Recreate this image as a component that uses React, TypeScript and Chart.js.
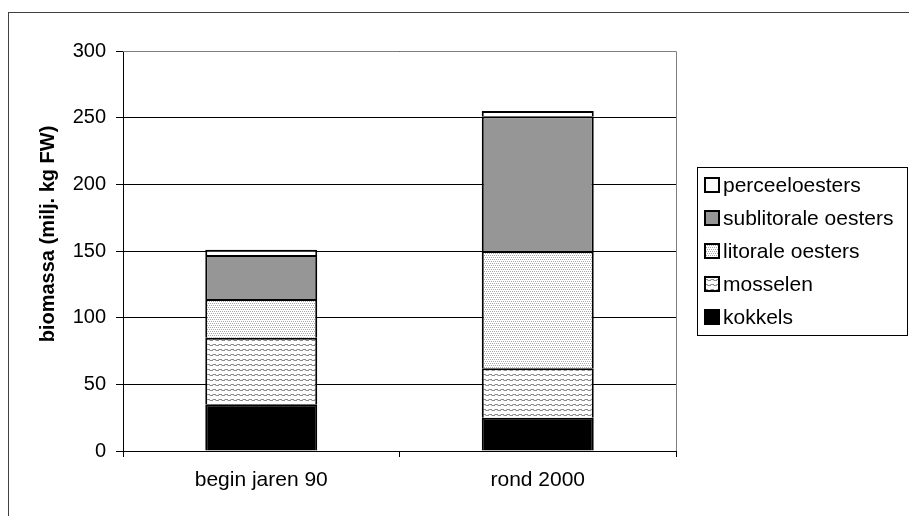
import React, { useEffect, useRef } from 'react';
import { Chart, registerables } from 'chart.js';

Chart.register(...registerables);

const categories = ['begin jaren 90', 'rond 2000'];
const seriesLabels = ['kokkels', 'mosselen', 'litorale oesters', 'sublitorale oesters', 'perceeloesters'];
const kokkels = [35, 25];
const mosselen = [50, 37];
const litoraleOesters = [29, 88];
const sublitoraleOesters = [33, 101];
const perceeloesters = [4, 4];
const yTicks = [0, 50, 100, 150, 200, 250, 300];
const yTitle = 'biomassa (milj. kg FW)';

const FONT = "'Liberation Sans', Arial, Helvetica, sans-serif";

function makePattern(kind: string): CanvasPattern | string {
  const c = document.createElement('canvas');
  const ctx = c.getContext('2d');
  if (!ctx) return '#ddd';
  if (kind === 'wave') {
    c.width = 6;
    c.height = 5;
    ctx.fillStyle = '#ffffff';
    ctx.fillRect(0, 0, 6, 5);
    ctx.fillStyle = '#8c8c8c';
    ctx.fillRect(0, 1, 3, 1);
    ctx.fillRect(3, 2, 3, 1);
    ctx.fillStyle = '#c8c8c8';
    ctx.fillRect(2, 2, 1, 1);
    ctx.fillRect(5, 1, 1, 1);
  } else {
    c.width = 4;
    c.height = 4;
    ctx.fillStyle = '#ffffff';
    ctx.fillRect(0, 0, 4, 4);
    ctx.fillStyle = '#a8a8a8';
    ctx.fillRect(0, 0, 1, 1);
    ctx.fillRect(2, 0, 1, 1);
    ctx.fillRect(1, 2, 1, 1);
    ctx.fillRect(3, 2, 1, 1);
  }
  const p = ctx.createPattern(c, 'repeat');
  return p || '#ddd';
}

export default function App() {
  const ref = useRef<HTMLCanvasElement | null>(null);

  useEffect(() => {
    const canvas = ref.current;
    if (!canvas) return;
    const wave = makePattern('wave');
    const dots = makePattern('dots');
    const fills = ['#000000', wave, dots, '#969696', '#ffffff'];
    const values = [kokkels, mosselen, litoraleOesters, sublitoraleOesters, perceeloesters];

    const datasets = seriesLabels.map((label, i) => ({
      label,
      data: values[i],
      backgroundColor: fills[i] as any,
      borderColor: '#000000',
      borderWidth: 2,
      categoryPercentage: 1,
      barPercentage: 0.405,
    }));

    const extras = {
      id: 'extras',
      afterDraw(chart: any) {
        const { ctx, chartArea } = chart;
        ctx.save();
        // plot area border (top & right)
        ctx.strokeStyle = '#808080';
        ctx.lineWidth = 1;
        ctx.beginPath();
        ctx.moveTo(chartArea.left, Math.round(chartArea.top) + 0.5);
        ctx.lineTo(Math.round(chartArea.right) + 0.5, Math.round(chartArea.top) + 0.5);
        ctx.lineTo(Math.round(chartArea.right) + 0.5, chartArea.bottom);
        ctx.stroke();

        // y axis title
        ctx.fillStyle = '#000';
        ctx.font = `bold 20px ${FONT}`;
        ctx.textAlign = 'center';
        ctx.textBaseline = 'middle';
        ctx.translate(39, chartArea.top + chartArea.height / 2 - 17);
        ctx.rotate(-Math.PI / 2);
        ctx.fillText(yTitle, 0, 0);
        ctx.restore();

        // legend
        ctx.save();
        const lx = Math.round(chartArea.right) + 21;
        const ly = 154;
        const lw = 210;
        const lh = 168;
        ctx.strokeStyle = '#000';
        ctx.lineWidth = 1;
        ctx.strokeRect(lx + 0.5, ly + 0.5, lw, lh);
        const n = chart.data.datasets.length;
        ctx.font = `21px ${FONT}`;
        ctx.textAlign = 'left';
        ctx.textBaseline = 'middle';
        for (let k = 0; k < n; k++) {
          const ds = chart.data.datasets[n - 1 - k];
          const cy = ly + 18 + k * 33;
          ctx.fillStyle = ds.backgroundColor;
          ctx.fillRect(lx + 8, cy - 7, 14, 14);
          ctx.strokeStyle = '#000';
          ctx.lineWidth = 2;
          ctx.strokeRect(lx + 8, cy - 7, 14, 14);
          ctx.fillStyle = '#000';
          ctx.fillText(ds.label, lx + 26, cy + 1);
        }
        ctx.restore();
      },
    };

    const chart = new Chart(canvas, {
      type: 'bar',
      data: { labels: categories, datasets: datasets as any },
      options: {
        animation: false,
        responsive: false,
        devicePixelRatio: 1,
        layout: { padding: { left: 0, top: 38, right: 233, bottom: 0 } },
        plugins: {
          legend: { display: false },
          tooltip: { enabled: false },
          title: { display: false },
        },
        scales: {
          x: {
            stacked: true,
            afterFit: (s: any) => { s.height = 65; },
            grid: {
              offset: true,
              drawOnChartArea: false,
              drawTicks: true,
              tickLength: 6,
              color: '#000',
            },
            border: { display: true, color: '#000', width: 1 },
            ticks: {
              color: '#000',
              padding: 11,
              font: { family: FONT, size: 21 },
              maxRotation: 0,
            },
          },
          y: {
            stacked: true,
            min: 0,
            max: 300,
            afterFit: (s: any) => { s.width = 114; },
            afterBuildTicks: (s: any) => { s.ticks = yTicks.map((v) => ({ value: v })); },
            grid: {
              color: '#000',
              lineWidth: 1,
              drawTicks: true,
              tickLength: 7,
            },
            border: { display: true, color: '#000', width: 1 },
            ticks: {
              color: '#000',
              padding: 10,
              font: { family: FONT, size: 20 },
            },
          },
        },
      },
      plugins: [extras],
    });

    return () => chart.destroy();
  }, []);

  return (
    <div
      style={{
        position: 'fixed',
        left: 8,
        top: 12,
        width: 901,
        height: 504,
        borderTop: '1px solid #404040',
        borderLeft: '1px solid #404040',
        boxSizing: 'border-box',
        background: '#fff',
        overflow: 'hidden',
      }}
    >
      <canvas ref={ref} width={900} height={503} style={{ display: 'block' }} />
    </div>
  );
}
